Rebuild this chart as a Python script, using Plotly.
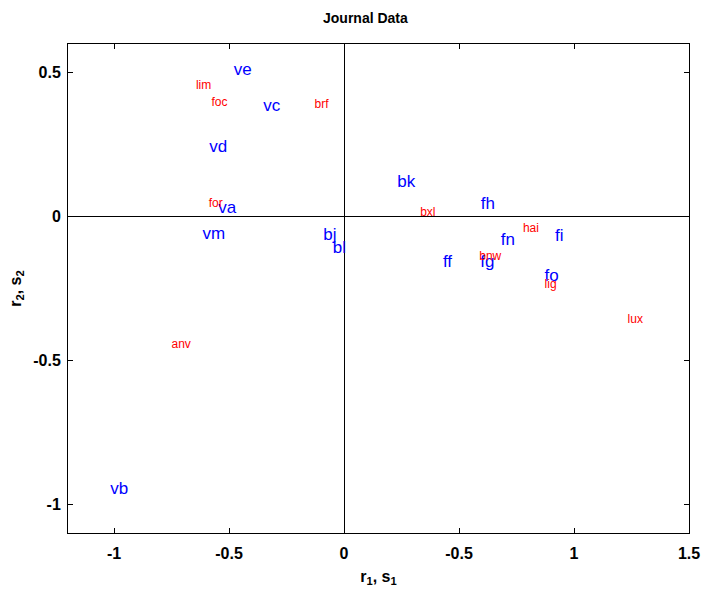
import plotly.graph_objects as go

# Row points (blue, large labels)
row_labels = ["ve", "vc", "vd", "va", "vm", "bj", "bl", "bk", "fh", "fi", "fn", "ff", "fg", "fo", "vb"]
row_x = [-0.479, -0.351, -0.586, -0.547, -0.615, -0.090, -0.049, 0.232, 0.595, 0.917, 0.682, 0.430, 0.592, 0.872, -1.016]
row_y = [0.506, 0.382, 0.239, 0.028, -0.063, -0.065, -0.112, 0.117, 0.042, -0.071, -0.084, -0.161, -0.159, -0.208, -0.950]

# Column points (red, small labels)
col_labels = ["lim", "foc", "brf", "for", "bxl", "hai", "bnw", "lig", "lux", "anv"]
col_x = [-0.644, -0.576, -0.128, -0.588, 0.331, 0.778, 0.588, 0.872, 1.233, -0.750]
col_y = [0.453, 0.396, 0.389, 0.044, 0.013, -0.043, -0.140, -0.239, -0.358, -0.445]

x_tickvals = [-1, -0.5, 0, 0.5, 1, 1.5]
x_ticktext = ["-1", "-0.5", "0", "-0.5", "1", "1.5"]
y_tickvals = [-1, -0.5, 0, 0.5]
y_ticktext = ["-1", "-0.5", "0", "0.5"]

FONT = "Liberation Sans, Arial, sans-serif"

fig = go.Figure()
fig.add_trace(go.Scatter(
    x=row_x, y=row_y, text=row_labels, mode="text",
    textposition="middle right",
    textfont=dict(family=FONT, size=17, color="#0000ff"),
    showlegend=False, hoverinfo="skip",
))
fig.add_trace(go.Scatter(
    x=col_x, y=col_y, text=col_labels, mode="text",
    textposition="middle right",
    textfont=dict(family=FONT, size=12, color="#ff0000"),
    showlegend=False, hoverinfo="skip",
))

axis_common = dict(
    showgrid=False, automargin=False,
    zeroline=True, zerolinecolor="black", zerolinewidth=1,
    showline=True, linecolor="black", linewidth=1, mirror="ticks",
    ticks="inside", ticklen=5, tickcolor="black", tickwidth=1,
    ticklabeloverflow="allow",
    tickfont=dict(family=FONT, size=16, color="black", weight="bold"),
)

fig.update_xaxes(
    range=[-1.2, 1.5], tickvals=x_tickvals, ticktext=x_ticktext,
    ticklabelstandoff=6,
    title=dict(text="r<sub>1</sub>, s<sub>1</sub>", standoff=9,
               font=dict(family=FONT, size=16, color="black", weight="bold")),
    **axis_common,
)
fig.update_yaxes(
    range=[-1.1, 0.6], tickvals=y_tickvals, ticktext=y_ticktext,
    ticklabelstandoff=3,
    title=dict(text="r<sub>2</sub>, s<sub>2</sub>", standoff=7,
               font=dict(family=FONT, size=16, color="black", weight="bold")),
    **axis_common,
)

fig.update_layout(
    width=703, height=592,
    margin=dict(l=68, r=14, t=44, b=59),
    paper_bgcolor="white", plot_bgcolor="white",
    hovermode=False,
    annotations=[dict(
        text="Journal Data", xref="paper", yref="paper",
        x=(365 - 68) / 621, y=1 + (44 - 18) / 489,
        xanchor="center", yanchor="middle", showarrow=False,
        font=dict(family=FONT, size=14, color="black", weight="bold"),
    )],
)

# remove the default page margin so the figure fills the window exactly
fig.write_html(
    "out.html",
    config={"displayModeBar": False},
    post_script=("document.body.style.margin='0';"
                 "document.documentElement.style.overflow='hidden';"
                 "document.body.style.overflow='hidden';"),
)
